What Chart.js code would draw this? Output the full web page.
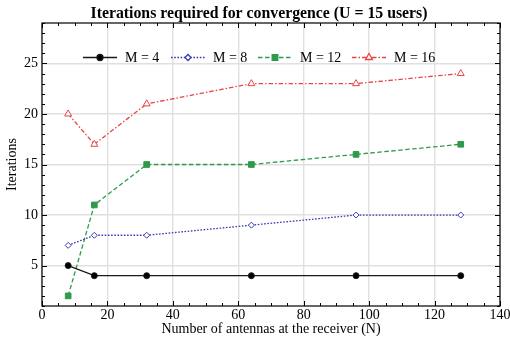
<!DOCTYPE html>
<html>
<head>
<meta charset="utf-8">
<script src="https://cdn.jsdelivr.net/npm/chart.js@4.4.0/dist/chart.umd.min.js"></script>
<style>
  html, body { margin: 0; padding: 0; background: #fff; }
  #wrap { width: 510px; height: 343px; }
</style>
</head>
<body>
<div id="wrap"><canvas id="c" width="510" height="343"></canvas></div>
<script>
// Number of receive antennas N
const antennas = [8, 16, 32, 64, 96, 128];
// Iterations to convergence for each M
const itersM4  = [5, 4, 4, 4, 4, 4];
const itersM8  = [7, 8, 8, 9, 10, 10];
const itersM12 = [2, 11, 15, 15, 16, 17];
const itersM16 = [20, 17, 21, 23, 23, 24];
const seriesLabels = ['M = 4', 'M = 8', 'M = 12', 'M = 16'];
const xTicks = [0, 20, 40, 60, 80, 100, 120, 140];
const yTicks = [5, 10, 15, 20, 25];

const FONT = '"Liberation Serif", "Times New Roman", serif';

function pts(ys) { return antennas.map((x, i) => ({ x: x, y: ys[i] })); }

const datasets = [
  { label: seriesLabels[0], data: pts(itersM4), borderColor: '#1a1a1a', backgroundColor: '#000',
    borderWidth: 1.3, borderDash: [], pointStyle: 'circle', pointRadius: 3, pointBorderWidth: 1 },
  { label: seriesLabels[1], data: pts(itersM8), borderColor: '#3a3ab0', backgroundColor: '#fff',
    borderWidth: 1.3, borderDash: [1.6, 1.6], pointStyle: 'rectRot', pointRadius: 3, pointBorderWidth: 1 },
  { label: seriesLabels[2], data: pts(itersM12), borderColor: '#2f9a4c', backgroundColor: '#2f9a4c',
    borderWidth: 1.3, borderDash: [4.5, 2.5], pointStyle: 'rect', pointRadius: 4, pointBorderWidth: 1 },
  { label: seriesLabels[3], data: pts(itersM16), borderColor: '#e84545', backgroundColor: '#fff',
    borderWidth: 1.3, borderDash: [4.5, 2, 1.5, 2], pointStyle: 'triangle', pointRadius: 4, pointBorderWidth: 1 }
];
datasets.forEach(d => { d.fill = false; d.tension = 0; d.pointHoverRadius = d.pointRadius; });

// Inward tick marks on all four sides, plus title and in-plot legend
const framePlugin = {
  id: 'frame',
  afterDraw(chart) {
    const { ctx, chartArea: a, scales } = chart;
    const xs = scales.x, ys = scales.y;
    ctx.save();
    ctx.strokeStyle = '#000';
    ctx.lineWidth = 1;
    ctx.beginPath();
    for (let v = 0; v <= 140; v += 5) {
      const px = Math.round(xs.getPixelForValue(v)) + 0.5;
      const len = v % 20 === 0 ? 5 : 3;
      ctx.moveTo(px, a.bottom); ctx.lineTo(px, a.bottom - len);
      ctx.moveTo(px, a.top); ctx.lineTo(px, a.top + len);
    }
    for (let v = 1; v <= 29; v += 1) {
      const py = Math.round(ys.getPixelForValue(v)) + 0.5;
      const len = v % 5 === 0 ? 5 : 3;
      ctx.moveTo(a.left, py); ctx.lineTo(a.left + len, py);
      ctx.moveTo(a.right, py); ctx.lineTo(a.right - len, py);
    }
    ctx.stroke();
    ctx.lineWidth = 1.2;
    ctx.strokeRect(a.left, a.top, a.right - a.left, a.bottom - a.top);

    // title
    ctx.fillStyle = '#000';
    ctx.font = 'bold 15.8px ' + FONT;
    ctx.textAlign = 'center';
    ctx.textBaseline = 'middle';
    ctx.fillText('Iterations required for convergence (U = 15 users)', 259, 14);

    // legend
    const lx = [83, 171, 258, 352];
    const ly = 57;
    ctx.font = '14px ' + FONT;
    ctx.textAlign = 'left';
    chart.data.datasets.forEach((d, i) => {
      const x0 = lx[i], x1 = lx[i] + 34;
      ctx.save();
      ctx.strokeStyle = d.borderColor;
      ctx.lineWidth = d.borderWidth;
      ctx.setLineDash(d.borderDash);
      ctx.beginPath(); ctx.moveTo(x0, ly + 0.5); ctx.lineTo(x1, ly + 0.5); ctx.stroke();
      ctx.setLineDash([]);
      ctx.fillStyle = d.backgroundColor;
      Chart.helpers.drawPoint(ctx, {
        pointStyle: d.pointStyle, radius: d.pointRadius, borderWidth: d.pointBorderWidth, rotation: 0
      }, (x0 + x1) / 2, ly + 0.5);
      ctx.restore();
      ctx.fillStyle = '#000';
      ctx.fillText(d.label, x1 + 8, ly + 1);
    });
    ctx.restore();
  }
};

new Chart(document.getElementById('c'), {
  type: 'line',
  data: { datasets },
  options: {
    responsive: false,
    animation: false,
    devicePixelRatio: 1,
    layout: { padding: { top: 23, right: 10, left: 0, bottom: 0 } },
    plugins: { legend: { display: false }, title: { display: false }, tooltip: { enabled: false } },
    scales: {
      x: {
        type: 'linear', min: 0, max: 140,
        afterBuildTicks: s => { s.ticks = xTicks.map(v => ({ value: v })); },
        afterFit: s => { s.height = 37; s.paddingLeft = 0; s.paddingRight = 0; },
        grid: { color: '#e0e0e0', lineWidth: 1.4, drawTicks: false },
        border: { display: false },
        ticks: { color: '#000', font: { family: FONT, size: 14 }, padding: 1, maxRotation: 0 },
        title: { display: true, text: 'Number of antennas at the receiver (N)', color: '#000',
                 font: { family: FONT, size: 14 }, padding: { top: 0, bottom: 5 } }
      },
      y: {
        type: 'linear', min: 1, max: 29,
        afterBuildTicks: s => { s.ticks = yTicks.map(v => ({ value: v })); },
        afterFit: s => { s.width = 42; s.paddingTop = 0; s.paddingBottom = 0; },
        grid: { color: '#e0e0e0', lineWidth: 1.4, drawTicks: false },
        border: { display: false },
        ticks: { color: '#000', font: { family: FONT, size: 14 }, padding: 4 },
        title: { display: true, text: 'Iterations', color: '#000',
                 font: { family: FONT, size: 14 }, padding: { top: 4, bottom: 0 } }
      }
    }
  },
  plugins: [framePlugin]
});
</script>
</body>
</html>
